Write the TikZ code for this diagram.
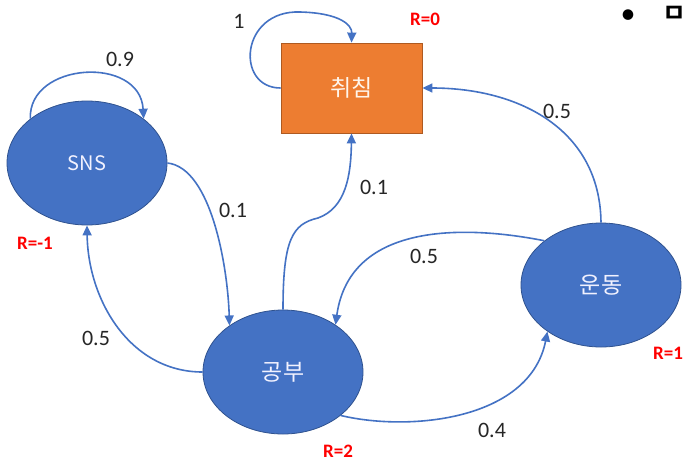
\documentclass[tikz,border=0pt]{standalone}
\usepackage{fontspec}
\setmainfont{Carlito}
\newfontfamily\kr{Noto Sans CJK KR}
\newfontfamily\krbold{Noto Sans CJK KR Bold}
\usetikzlibrary{shapes.geometric,arrows.meta}
\definecolor{nodeblue}{HTML}{4472C4}
\definecolor{nodeborder}{HTML}{2F528F}
\definecolor{sleeporange}{HTML}{ED7D31}
\definecolor{sleepborder}{HTML}{AE5A21}
\definecolor{rred}{HTML}{FF0000}
\tikzset{
  state/.style={ellipse, fill=nodeblue, draw=nodeborder, line width=0.8pt, minimum width=160pt, minimum height=124pt, inner sep=0pt, text=white!95!blue, font=\kr\fontsize{23}{27}\selectfont},
  sleepbox/.style={rectangle, fill=sleeporange, draw=sleepborder, line width=0.8pt, minimum width=141pt, minimum height=90pt, inner sep=0pt, text=white!92!orange, font=\kr\fontsize{23}{27}\selectfont},
  edge/.style={draw=nodeblue, line width=1.6pt, -{Triangle[length=10pt,width=9pt]}},
  prob/.style={font=\fontsize{22}{26}\selectfont, text=black!85},
  reward/.style={font=\bfseries\fontsize{19}{23}\selectfont, text=rred},
}
\begin{document}
\begin{tikzpicture}[x=1pt,y=-1pt]
\useasboundingbox (0,0) rectangle (692,463);
\fill[white] (0,0) rectangle (692,463);

\node[sleepbox] (sleep) at (351.5,88) {취침};
\node[state] (sns) at (87,163) {\fontsize{20}{24}\selectfont SNS};
\node[state] (study) at (283,372) {공부};
\node[state] (run) at (601,285) {운동};

% edges
\draw[edge] (sleep.west) .. controls (235,88) and (240,10) .. (300,12) .. controls (340,13) and (352,25) .. (sleep.north);
\draw[edge] (sns.142) .. controls (28,62) and (140,55) .. (sns.38);
\draw[edge] (sns.east) .. controls (212,168) and (228,270) .. (study.139);
\draw[edge] (study.180) .. controls (130,372) and (88,300) .. (sns.south);
\draw[edge] (study.north) .. controls (283,240) and (292,224) .. (318,218) .. controls (346,208) and (351,175) .. (sleep.south);
\draw[edge] (run.142) .. controls (470,226) and (350,220) .. (study.42);
\draw[edge] (run.north) .. controls (600,130) and (520,88) .. (sleep.east);
\draw[edge] (study.-37) .. controls (410,432) and (530,420) .. (run.221);

% probabilities
\node[prob] (p1) at (239,21) {1};
\node[prob] (p2) at (120,59) {0.9};
\node[prob] (p3) at (233,210) {0.1};
\node[prob] (p4) at (96,338) {0.5};
\node[prob] (p5) at (374,187) {0.1};
\node[prob] (p6) at (424,256) {0.5};
\node[prob] (p7) at (557,111) {0.5};
\node[prob] (p8) at (492,430) {0.4};

% rewards
\node[reward] (r0) at (425,19) {R=0};
\node[reward] (r1) at (35,243) {R=-1};
\node[reward] (r2) at (338,451) {R=2};
\node[reward] (r3) at (668,353) {R=1};

% cut-off heading
\node[font=\fontsize{30}{34}\selectfont, inner sep=0pt] (bul) at (628,17) {•};
\node[font=\krbold\fontsize{26}{30}\selectfont, anchor=west, inner sep=0pt] (hd) at (662,14) {ㅁ};
\end{tikzpicture}
\end{document}
